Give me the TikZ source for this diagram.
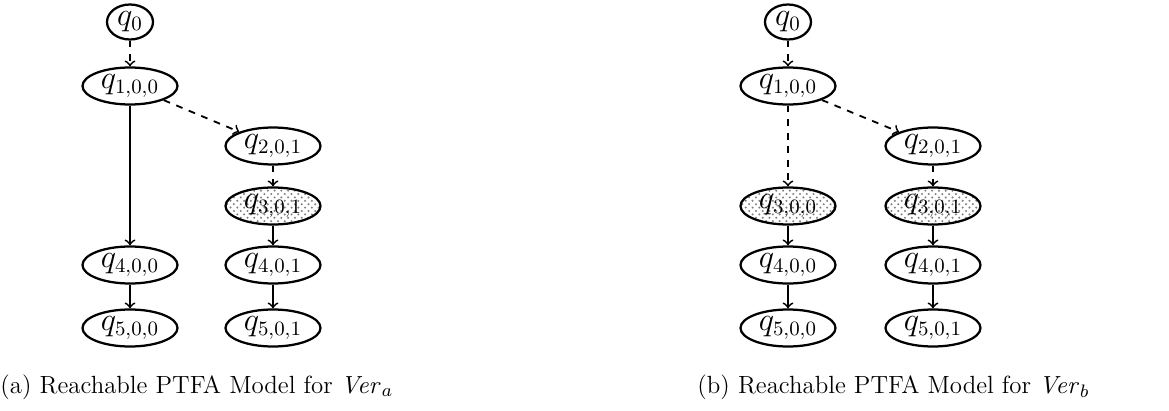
\documentclass[tikz,border=0pt]{standalone}
\usetikzlibrary{patterns,shapes.geometric}
\begin{document}
\begin{tikzpicture}[x=0.4425pt,y=-0.4425pt,
  state/.style={ellipse,draw,line width=1pt,minimum width=95*0.4425pt,minimum height=37*0.4425pt,inner sep=0pt,font=\fontsize{13.5}{16}\selectfont},
  init/.style={state,minimum width=46*0.4425pt,minimum height=35*0.4425pt},
  shaded/.style={pattern=crosshatch dots,pattern color=gray},
  edge/.style={->,line width=0.8pt},
  dedge/.style={edge,dashed},
  caption/.style={anchor=base west,inner sep=0pt,font=\fontsize{11}{13}\selectfont}]
\useasboundingbox (0,0) rectangle (1169,411);

% (a)
\node[init]  (a0)   at (130,22)  {$q_0$};
\node[state] (a100) at (130,86)  {$q_{1,0,0}$};
\node[state] (a201) at (273,146) {$q_{2,0,1}$};
\node[state,shaded] (a301) at (273,206) {$q_{3,0,1}$};
\node[state] (a400) at (130,265) {$q_{4,0,0}$};
\node[state] (a401) at (273,265) {$q_{4,0,1}$};
\node[state] (a500) at (130,328) {$q_{5,0,0}$};
\node[state] (a501) at (273,328) {$q_{5,0,1}$};
\draw[dedge] (a0) -- (a100);
\draw[dedge] (a100) -- (a201);
\draw[edge]  (a100) -- (a400);
\draw[dedge] (a201) -- (a301);
\draw[edge]  (a301) -- (a401);
\draw[edge]  (a400) -- (a500);
\draw[edge]  (a401) -- (a501);
\node[caption] (capa) at (0,393) {(a) Reachable PTFA Model for $\mathit{Ver}_a$};

% (b)
\node[init]  (b0)   at (788,22)  {$q_0$};
\node[state] (b100) at (788,86)  {$q_{1,0,0}$};
\node[state] (b201) at (933,146) {$q_{2,0,1}$};
\node[state,shaded] (b300) at (788,206) {$q_{3,0,0}$};
\node[state,shaded] (b301) at (933,206) {$q_{3,0,1}$};
\node[state] (b400) at (788,265) {$q_{4,0,0}$};
\node[state] (b401) at (933,265) {$q_{4,0,1}$};
\node[state] (b500) at (788,328) {$q_{5,0,0}$};
\node[state] (b501) at (933,328) {$q_{5,0,1}$};
\draw[dedge] (b0) -- (b100);
\draw[dedge] (b100) -- (b201);
\draw[dedge] (b100) -- (b300);
\draw[dedge] (b201) -- (b301);
\draw[edge]  (b300) -- (b400);
\draw[edge]  (b301) -- (b401);
\draw[edge]  (b400) -- (b500);
\draw[edge]  (b401) -- (b501);
\node[caption] (capb) at (697,393) {(b) Reachable PTFA Model for $\mathit{Ver}_b$};
\end{tikzpicture}
\end{document}
